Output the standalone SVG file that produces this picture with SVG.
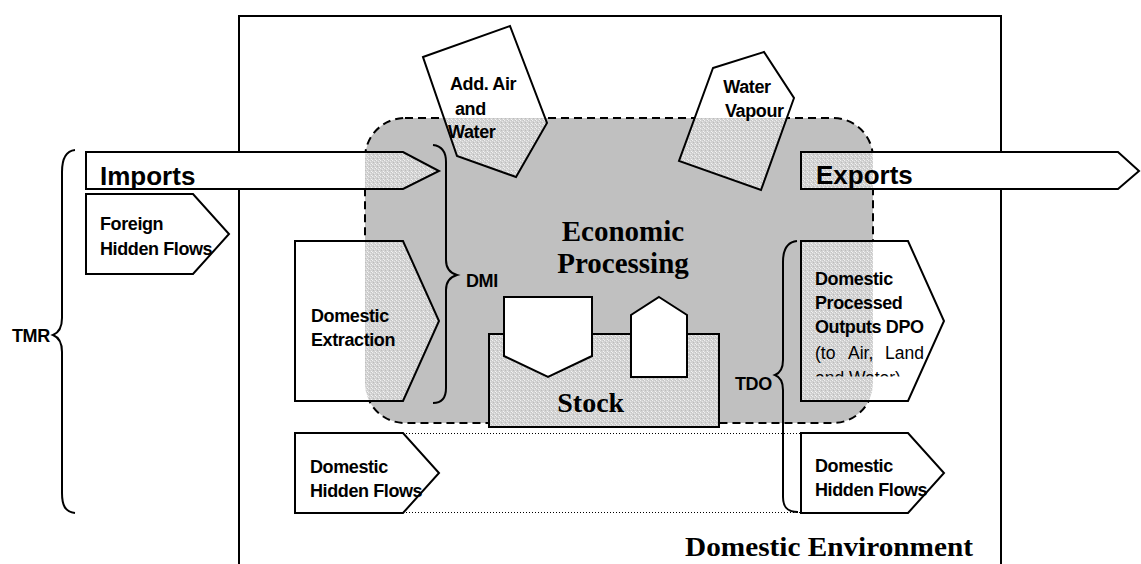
<svg xmlns="http://www.w3.org/2000/svg" xmlns:xlink="http://www.w3.org/1999/xlink" width="1141" height="564" viewBox="0 0 1141 564">
<style>
.sh{fill:#fff;stroke:none}
.st{fill:url(#stip);stroke:none}
.ol{fill:none;stroke:#000;stroke-width:2;stroke-linejoin:miter}
.br{fill:none;stroke:#000;stroke-width:2}
.lbl{font-family:"Liberation Sans",Arial,sans-serif;font-weight:bold;font-size:18px;letter-spacing:-0.4px;fill:#000}
.big{font-size:26px;letter-spacing:0}
.reg{font-weight:normal;letter-spacing:0;font-size:17.5px}
.ser{font-family:"Liberation Serif","Times New Roman",serif;font-weight:bold;fill:#000}
.dot{fill:none;stroke:#000;stroke-width:1;stroke-dasharray:1 2}
</style>
<defs>
<pattern id="stip" width="4" height="4" patternUnits="userSpaceOnUse">
<rect width="4" height="4" fill="#d2d2d2"/>
<rect x="0" y="0" width="1" height="1" fill="#f0f0f0"/>
<rect x="2" y="1" width="1" height="1" fill="#e8e8e8"/>
<rect x="1" y="2" width="1" height="1" fill="#bcbcbc"/>
<rect x="3" y="3" width="1" height="1" fill="#f4f4f4"/>
<rect x="3" y="0" width="1" height="1" fill="#c4c4c4"/>
</pattern>
<clipPath id="eco"><rect x="365" y="118" width="508" height="305" rx="40"/></clipPath>
<clipPath id="dpoclip"><rect x="800" y="240" width="150" height="136.5"/></clipPath>
<polygon id="p-imp" points="86,152 403,152 439,171 403,189 86,189"/>
<polygon id="p-exp" points="801,152 1118,152 1139,171 1118,189 801,189"/>
<polygon id="p-fhf" points="86,194 193,194 229,234 193,274 86,274"/>
<polygon id="p-de" points="295,241 403,241 439,321 403,401 295,401"/>
<polygon id="p-dhfl" points="295,433 403,433 439,473 403,513 295,513"/>
<polygon id="p-dpo" points="801,241 908,241 944,321 908,401 801,401"/>
<polygon id="p-dhfr" points="801,433 908,433 944,473 908,513 801,513"/>
<polygon id="p-air" points="423,57 510,26 547,123 516,177 457,156"/>
<polygon id="p-vap" points="713,68 764,52 794,98 761,190 679,161"/>
</defs>

<g id="environment">
<path d="M239,564 V16 H1001 V564" class="ol"/>
<text class="ser" x="685" y="556" font-size="28" textLength="288" lengthAdjust="spacingAndGlyphs">Domestic Environment</text>
</g>

<g id="economic-processing">
<rect x="365" y="118" width="508" height="305" rx="40" fill="#c0c0c0"/>
<rect x="365" y="118" width="508" height="305" rx="40" fill="none" stroke="#000" stroke-width="2" stroke-dasharray="8 5"/>
<text class="ser" x="623" y="240.7" font-size="29" text-anchor="middle">Economic</text>
<text class="ser" x="623" y="273" font-size="29" text-anchor="middle">Processing</text>
</g>

<g id="connectors">
<line x1="403" y1="433.5" x2="801" y2="433.5" class="dot"/>
<line x1="403" y1="512.5" x2="801" y2="512.5" class="dot"/>
</g>

<g id="imports">
<use xlink:href="#p-imp" class="sh"/>
<use xlink:href="#p-imp" class="st" clip-path="url(#eco)"/>
<use xlink:href="#p-imp" class="ol"/>
<text class="lbl big" x="100" y="185">Imports</text>
</g>

<g id="exports">
<use xlink:href="#p-exp" class="sh"/>
<use xlink:href="#p-exp" class="st" clip-path="url(#eco)"/>
<use xlink:href="#p-exp" class="ol"/>
<text class="lbl big" x="816" y="184">Exports</text>
</g>

<g id="foreign-hidden-flows">
<use xlink:href="#p-fhf" class="sh"/>
<use xlink:href="#p-fhf" class="ol"/>
<text class="lbl" x="100" y="230">Foreign</text>
<text class="lbl" x="100" y="255">Hidden Flows</text>
</g>

<g id="domestic-extraction">
<use xlink:href="#p-de" class="sh"/>
<use xlink:href="#p-de" class="st" clip-path="url(#eco)"/>
<use xlink:href="#p-de" class="ol"/>
<text class="lbl" x="311" y="321.7">Domestic</text>
<text class="lbl" x="311" y="345.7">Extraction</text>
</g>

<g id="domestic-hidden-flows-left">
<use xlink:href="#p-dhfl" class="sh"/>
<use xlink:href="#p-dhfl" class="ol"/>
<text class="lbl" x="310" y="473.3">Domestic</text>
<text class="lbl" x="310" y="496.7">Hidden Flows</text>
</g>

<g id="dpo">
<use xlink:href="#p-dpo" class="sh"/>
<use xlink:href="#p-dpo" class="st" clip-path="url(#eco)"/>
<use xlink:href="#p-dpo" class="ol"/>
<g clip-path="url(#dpoclip)">
<text class="lbl" x="815" y="285">Domestic</text>
<text class="lbl" x="815" y="309.3">Processed</text>
<text class="lbl" x="815" y="333.3">Outputs DPO</text>
<text class="lbl reg" y="359.3"><tspan x="815">(to</tspan><tspan x="848">Air,</tspan><tspan x="885">Land</tspan></text>
<text class="lbl reg" x="815" y="383.5">and Water)</text>
</g>
</g>

<g id="domestic-hidden-flows-right">
<use xlink:href="#p-dhfr" class="sh"/>
<use xlink:href="#p-dhfr" class="ol"/>
<text class="lbl" x="815" y="471.7">Domestic</text>
<text class="lbl" x="815" y="496">Hidden Flows</text>
</g>

<g id="add-air-water">
<use xlink:href="#p-air" class="sh"/>
<use xlink:href="#p-air" class="st" clip-path="url(#eco)"/>
<use xlink:href="#p-air" class="ol"/>
<text class="lbl" x="450" y="90">Add. Air</text>
<text class="lbl" x="455" y="115">and</text>
<text class="lbl" x="448" y="138.3">Water</text>
</g>

<g id="water-vapour">
<use xlink:href="#p-vap" class="sh"/>
<use xlink:href="#p-vap" class="st" clip-path="url(#eco)"/>
<use xlink:href="#p-vap" class="ol"/>
<text class="lbl" x="723.3" y="92.7">Water</text>
<text class="lbl" x="725" y="116.7">Vapour</text>
</g>

<g id="stock">
<rect x="489" y="334" width="230" height="93" class="st"/>
<rect x="489" y="334" width="230" height="93" class="ol"/>
<polygon points="504,297 592,297 592,356 548,377 504,356" fill="#fff" stroke="#000" stroke-width="2"/>
<polygon points="659,297 687,315 687,377 631,377 631,315" fill="#fff" stroke="#000" stroke-width="2"/>
<text class="ser" x="557.3" y="411.7" font-size="28">Stock</text>
</g>

<g id="tmr">
<path class="br" d="M75,150 C65,151 62,160 62,172 L62,318 C62,328 58,333 53,335 C58,337 62,342 62,352 L62,493 C62,505 65,512 75,513"/>
<text class="lbl" x="12" y="341.7">TMR</text>
</g>

<g id="dmi">
<path class="br" d="M433,145 C442,146 446,152 446,162 L446,260 C446,268 450,273 457,275 C450,277 446,282 446,290 L446,388 C446,398 442,403 433,403"/>
<text class="lbl" x="466" y="286.7">DMI</text>
</g>

<g id="tdo">
<text class="lbl" x="735" y="390">TDO</text>
<path class="br" d="M797,241 C787,242 783,250 783,262 L783,360 C783,368 780,373 775,375 C780,377 783,382 783,390 L783,497 C783,507 787,512 798,512"/>
</g>
</svg>
